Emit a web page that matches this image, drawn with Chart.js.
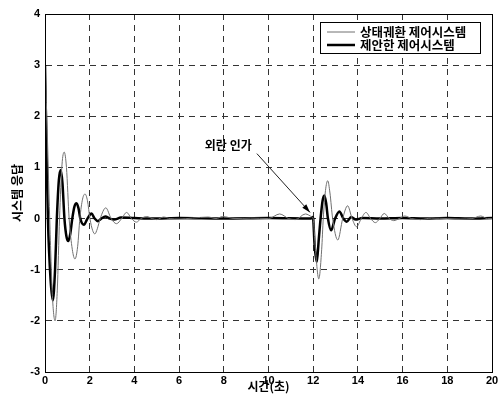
<!DOCTYPE html>
<html><head><meta charset="utf-8">
<script src="https://cdn.jsdelivr.net/npm/chart.js@4/dist/chart.umd.min.js"></script>
<style>html,body{margin:0;padding:0;background:#fff}#wrap{width:503px;height:400px}</style>
</head><body><div id="wrap"><canvas id="c" width="503" height="400"></canvas></div>
<script>
// ---- data ----
const seriesLabels = ['상태궤환 제어시스템', '제안한 제어시스템'];
const xTitle = '시간(초)';
const yTitle = '시스템 응답';
const xTicks = [0, 2, 4, 6, 8, 10, 12, 14, 16, 18, 20];
const yTicks = [-3, -2, -1, 0, 1, 2, 3, 4];

// state-feedback control system (thin line)
const stateFbT = [0, 0.08, 0.21, 0.33, 0.45, 0.55, 0.65, 0.76, 0.86, 0.96, 1.08, 1.22, 1.34, 1.46, 1.56, 1.68, 1.79, 1.90, 2.01, 2.13, 2.23, 2.34, 2.47, 2.72, 2.96, 3.2, 3.43, 3.65, 3.87, 4.09, 4.3, 4.55, 4.8, 5.0, 5.3, 5.6, 6.0, 6.6, 7.3, 7.65, 7.95, 8.5, 9.2, 10.0, 10.5, 10.9, 11.2, 11.65, 11.95, 12.0, 12.1, 12.25, 12.38, 12.45, 12.55, 12.65, 12.75, 12.87, 13.1, 13.32, 13.54, 13.74, 13.94, 14.15, 14.36, 14.57, 14.78, 14.98, 15.18, 15.4, 15.6, 15.85, 16.1, 16.4, 16.8, 17.3, 18.0, 18.6, 19.1, 19.5, 19.8, 20];
const stateFbY = [3.0, 2.0, 0, -1.5, -2.0, -1.4, 0, 1.05, 1.3, 1.0, 0, -0.6, -0.79, -0.55, 0, 0.38, 0.48, 0.35, 0, -0.23, -0.30, -0.2, 0, 0.21, 0, -0.1, 0, 0.12, 0, -0.07, 0, 0.04, 0, -0.02, 0.03, 0, -0.01, 0.01, 0.03, 0.0, 0.04, 0, 0.01, 0, 0.09, 0, -0.02, 0.09, 0.03, 0, -0.6, -1.18, -0.6, 0, 0.55, 0.74, 0.5, 0, -0.42, 0, 0.25, 0, -0.16, 0, 0.12, 0, -0.08, 0, 0.1, 0, -0.04, 0, 0.05, 0, -0.02, 0.01, 0, -0.01, 0, 0.05, 0, 0];

// proposed control system (thick line)
const proposedT = [0, 0.06, 0.13, 0.25, 0.35, 0.45, 0.53, 0.62, 0.70, 0.78, 0.87, 0.96, 1.04, 1.13, 1.22, 1.32, 1.41, 1.50, 1.58, 1.74, 1.90, 2.08, 2.22, 2.37, 2.52, 2.7, 2.9, 3.1, 3.4, 4.0, 5.0, 6.0, 8.0, 10.0, 11.9, 11.98, 12.0, 12.06, 12.16, 12.25, 12.33, 12.42, 12.5, 12.58, 12.66, 12.8, 12.98, 13.17, 13.35, 13.5, 13.7, 13.9, 14.2, 15.0, 16.0, 17.0, 18.0, 19.0, 20.0];
const proposedY = [3.0, 1.5, 0, -1.2, -1.6, -1.0, 0, 0.75, 0.95, 0.7, 0, -0.35, -0.44, -0.3, 0, 0.24, 0.30, 0.2, 0, -0.12, 0, 0.10, 0, -0.05, 0, 0.04, 0, -0.02, 0.02, 0.01, 0.0, 0.01, 0.0, 0.01, 0.0, 0.03, 0, -0.5, -0.85, -0.4, 0, 0.35, 0.45, 0.3, 0, -0.23, 0, 0.14, 0, -0.06, 0.03, -0.02, 0.01, 0, 0.01, 0, 0.01, 0, 0.01];

// annotation (data coordinates)
const annotationText = '외란 인가';
const annotationTextAt = [8.2, 1.43];
const arrowFrom = [9.48, 1.27];
const arrowTo = [11.86, 0.12];

// ---- chart ----
const zip = (t, y) => t.map((v, i) => ({x: v, y: y[i]}));
const tickFont = {family: "'Liberation Sans', Arial, sans-serif", size: 11, weight: 'bold'};
const krFont = "'Noto Sans CJK KR', sans-serif";

const framePlugin = {
  id: 'frame',
  afterDatasetsDraw(chart) {
    const {ctx, chartArea: a, scales: {x, y}} = chart;
    ctx.save();
    // plot frame
    ctx.strokeStyle = '#000';
    ctx.lineWidth = 1;
    ctx.setLineDash([]);
    ctx.strokeRect(Math.round(a.left) + 0.5, Math.round(a.top) + 0.5, Math.round(a.right - a.left), Math.round(a.bottom - a.top));

    // annotation text
    ctx.fillStyle = '#000';
    ctx.font = 'bold 12px ' + krFont;
    ctx.textAlign = 'center';
    ctx.textBaseline = 'middle';
    ctx.fillText(annotationText, x.getPixelForValue(annotationTextAt[0]), y.getPixelForValue(annotationTextAt[1]));
    // arrow
    const x1 = x.getPixelForValue(arrowFrom[0]), y1 = y.getPixelForValue(arrowFrom[1]);
    const x2 = x.getPixelForValue(arrowTo[0]), y2 = y.getPixelForValue(arrowTo[1]);
    ctx.strokeStyle = '#222';
    ctx.lineWidth = 1;
    ctx.beginPath(); ctx.moveTo(x1, y1); ctx.lineTo(x2, y2); ctx.stroke();
    const ang = Math.atan2(y2 - y1, x2 - x1), L = 9, w = 0.3;
    ctx.fillStyle = '#000';
    ctx.beginPath();
    ctx.moveTo(x2, y2);
    ctx.lineTo(x2 - L * Math.cos(ang - w), y2 - L * Math.sin(ang - w));
    ctx.lineTo(x2 - L * Math.cos(ang + w), y2 - L * Math.sin(ang + w));
    ctx.closePath(); ctx.fill();

    // legend box
    const bx = 320, by = 22, bw = 160, bh = 31;
    ctx.fillStyle = '#fff';
    ctx.fillRect(bx, by, bw, bh);
    ctx.strokeStyle = '#000';
    ctx.lineWidth = 1;
    ctx.strokeRect(bx + 0.5, by + 0.5, bw, bh);
    chart.data.datasets.forEach((ds, i) => {
      const ry = by + 10 + i * 13;
      ctx.strokeStyle = ds.borderColor;
      ctx.lineWidth = ds.borderWidth;
      ctx.beginPath(); ctx.moveTo(bx + 7, ry); ctx.lineTo(bx + 35, ry); ctx.stroke();
      ctx.fillStyle = '#000';
      ctx.font = 'bold 12.5px ' + krFont;
      ctx.textAlign = 'left';
      ctx.textBaseline = 'middle';
      ctx.fillText(ds.label, bx + 40, ry);
    });
    ctx.restore();
  }
};

new Chart(document.getElementById('c'), {
  type: 'line',
  data: {
    datasets: [
      {label: seriesLabels[0], data: zip(stateFbT, stateFbY), borderColor: '#707070', borderWidth: 1, pointRadius: 0, cubicInterpolationMode: 'monotone', fill: false},
      {label: seriesLabels[1], data: zip(proposedT, proposedY), borderColor: '#000', borderWidth: 2.5, pointRadius: 0, cubicInterpolationMode: 'monotone', fill: false}
    ]
  },
  options: {
    responsive: false,
    devicePixelRatio: 1,
    animation: false,
    layout: {padding: {top: 14, right: 11, left: 0, bottom: 0}},
    plugins: {legend: {display: false}, tooltip: {enabled: false}},
    scales: {
      x: {
        type: 'linear', min: 0, max: 20,
        afterBuildTicks: s => { s.ticks = xTicks.map(v => ({value: v})); },
        ticks: {font: tickFont, color: '#000', padding: 2, maxRotation: 0, autoSkip: false},
        grid: {color: '#333', lineWidth: 1, drawTicks: false},
        border: {display: true, color: '#000', dash: [6, 5]},
        title: {display: true, text: xTitle, color: '#000', font: {family: krFont, size: 12, weight: 'bold'}, padding: {top: 0, bottom: 6}},
        afterFit: s => { s.height = 28; }
      },
      y: {
        type: 'linear', min: -3, max: 4,
        afterBuildTicks: s => { s.ticks = yTicks.map(v => ({value: v})); },
        ticks: {font: tickFont, color: '#000', padding: 5},
        grid: {color: '#333', lineWidth: 1, drawTicks: false},
        border: {display: true, color: '#000', dash: [6, 5]},
        title: {display: true, text: yTitle, color: '#000', font: {family: krFont, size: 12, weight: 'bold'}, padding: {top: 10, bottom: 0}},
        afterFit: s => { s.width = 45; }
      }
    }
  },
  plugins: [framePlugin]
});
</script>
</body></html>
